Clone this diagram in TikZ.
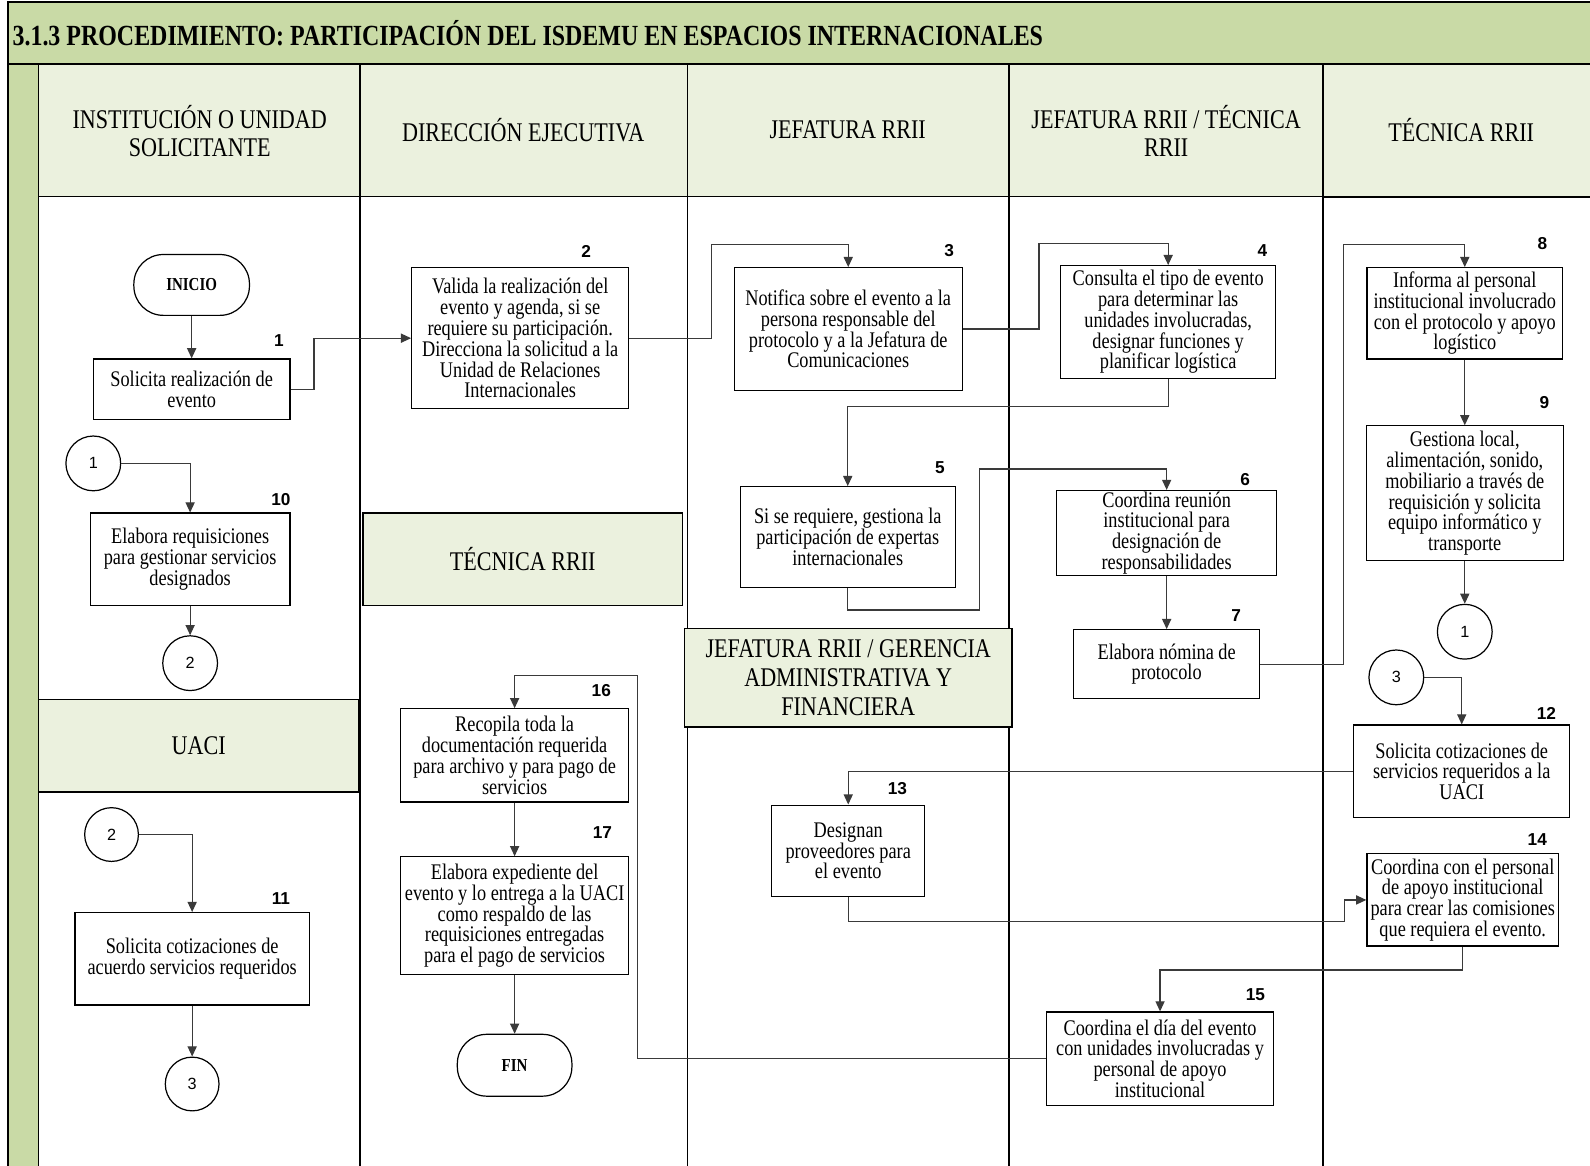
\documentclass[tikz,border=0pt]{standalone}
\usepackage{fontspec}
\setmainfont{Liberation Serif}[FakeStretch=0.82]
\newfontfamily\numfont{Liberation Sans}
\usetikzlibrary{arrows.meta}

\definecolor{band}{HTML}{C9DAA6}
\definecolor{lanehead}{HTML}{EBF1DE}
\definecolor{wire}{HTML}{3A3A3A}

\begin{document}
\begin{tikzpicture}[x=0.5pt,y=-0.5pt,
  pbox/.style={draw=black,line width=0.6pt,fill=white,align=center,inner sep=1pt,
    font=\fontsize{11}{10.25}\selectfont},
  term/.style={draw=black,line width=0.6pt,fill=white,rounded corners=14.5pt,inner sep=1pt,
    font=\fontsize{9}{10}\selectfont\bfseries},
  conn/.style={draw=wire,line width=0.6pt,-{Triangle[length=5pt,width=4.5pt]}},
  num/.style={inner sep=0pt,font=\numfont\bfseries\fontsize{8.5}{10}\selectfont},
  conref/.style={circle,draw=black,line width=0.6pt,fill=white,minimum size=26.5pt,inner sep=0pt,
    font=\numfont\fontsize{8}{10}\selectfont},
  lanetitle/.style={align=center,inner sep=0pt,font=\fontsize{13.3}{14}\selectfont},
  subhead/.style={draw=black,line width=0.6pt,fill=lanehead,align=center,inner sep=1pt,
    font=\fontsize{13.3}{14.25}\selectfont},
  lane/.style={draw=black,line width=0.6pt},
]
\useasboundingbox (0,0) rectangle (1568,1149);

% title band, left strip and lane header row
\fill[band] (8,2) rectangle (1600,63);
\fill[band] (8,63) rectangle (38,1200);
\fill[lanehead] (38,63) rectangle (1600,194);
\draw[line width=0.9pt] (8,1200) -- (8,2) -- (1600,2);
\draw[line width=0.9pt] (8,63) -- (1600,63);
\draw[lane] (38,194) -- (1600,194);
\foreach \lx in {38,355,678,995} \draw[lane] (\lx,63) -- (\lx,1200);
\draw[line width=0.9pt] (1305,63) -- (1305,1200);
\draw[line width=0.9pt] (1305,194) -- (1600,194);

\node[anchor=west,inner sep=0pt,font=\fontsize{14.4}{16}\selectfont\bfseries] (title) at (12,33)
  {3.1.3 PROCEDIMIENTO: PARTICIPACIÓN DEL ISDEMU EN ESPACIOS INTERNACIONALES};

% lane titles
\node[lanetitle] (l1) at (197,129) {INSTITUCIÓN O UNIDAD\\SOLICITANTE};
\node[lanetitle] (l2) at (516,128) {DIRECCIÓN EJECUTIVA};
\node[lanetitle] (l3) at (836,128) {JEFATURA RRII};
\node[lanetitle] (l4) at (1150,129) {JEFATURA RRII / TÉCNICA\\RRII};
\node[lanetitle] (l5) at (1441,128) {TÉCNICA RRII};

% sub-lane headers
\node[subhead,minimum width=157.5pt,minimum height=45.5pt] (sh1) at (515.5,551.5) {TÉCNICA RRII};
\node[subhead,minimum width=158pt,minimum height=45.5pt] (sh2) at (196,735.5) {UACI};
\node[subhead,minimum width=161.5pt,minimum height=48.5pt] (sh3) at (836.5,668.5)
  {JEFATURA RRII / GERENCIA\\ADMINISTRATIVA Y\\FINANCIERA};

% terminals
\node[term,minimum width=57pt,minimum height=30pt] (inicio) at (189,281) {INICIO};
\node[term,minimum width=56.5pt,minimum height=30.5pt] (fin) at (507.5,1050.5) {FIN};

% process steps
\node[pbox,minimum width=97pt,minimum height=30pt] (b1) at (189,384) {Solicita realización de\\evento};
\node[pbox,minimum width=107pt,minimum height=69.5pt] (b2) at (513,333.5)
  {Valida la realización del\\evento y agenda, si se\\requiere su participación.\\Direcciona la solicitud a la\\Unidad de Relaciones\\Internacionales};
\node[pbox,minimum width=112.5pt,minimum height=60.5pt] (b3) at (836.5,324.5)
  {Notifica sobre el evento a la\\persona responsable del\\protocolo y a la Jefatura de\\Comunicaciones};
\node[pbox,minimum width=106pt,minimum height=55.5pt] (b4) at (1152,317.5)
  {Consulta el tipo de evento\\para determinar las\\unidades involucradas,\\designar funciones y\\planificar logística};
\node[pbox,minimum width=106pt,minimum height=49.5pt] (b5) at (836,529.5)
  {Si se requiere, gestiona la\\participación de expertas\\internacionales};
\node[pbox,minimum width=108.5pt,minimum height=41.5pt,inner sep=0.5pt] (b6) at (1150.5,525.5)
  {Coordina reunión\\institucional para\\designación de\\responsabilidades};
\node[pbox,minimum width=91.5pt,minimum height=34pt] (b7) at (1150.5,655) {Elabora nómina de\\protocolo};
\node[pbox,minimum width=96.5pt,minimum height=45pt] (b8) at (1444.5,309)
  {Informa al personal\\institucional involucrado\\con el protocolo y apoyo\\logístico};
\node[pbox,minimum width=97pt,minimum height=66.5pt] (b9) at (1444.5,486.5)
  {Gestiona local,\\alimentación, sonido,\\mobiliario a través de\\requisición y solicita\\equipo informático y\\transporte};
\node[pbox,minimum width=98.5pt,minimum height=45.5pt] (b10) at (187.5,551.5)
  {Elabora requisiciones\\para gestionar servicios\\designados};
\node[pbox,minimum width=115.5pt,minimum height=45.5pt] (b11) at (189.5,945.5)
  {Solicita cotizaciones de\\acuerdo servicios requeridos};
\node[pbox,minimum width=106.5pt,minimum height=45.5pt] (b12) at (1441.5,760.5)
  {Solicita cotizaciones de\\servicios requeridos a la\\UACI};
\node[pbox,minimum width=75.5pt,minimum height=45pt] (b13) at (836.5,839)
  {Designan\\proveedores para\\el evento};
\node[pbox,minimum width=94.5pt,minimum height=45.5pt] (b14) at (1442.5,887.5)
  {Coordina con el personal\\de apoyo institucional\\para crear las comisiones\\que requiera el evento.};
\node[pbox,minimum width=112pt,minimum height=46pt] (b15) at (1144,1044)
  {Coordina el día del evento\\con unidades involucradas y\\personal de apoyo\\institucional};
\node[pbox,minimum width=112.5pt,minimum height=46pt] (b16) at (507.5,745)
  {Recopila toda la\\documentación requerida\\para archivo y para pago de\\servicios};
\node[pbox,minimum width=112.5pt,minimum height=58pt] (b17) at (507.5,903)
  {Elabora expediente del\\evento y lo entrega a la UACI\\como respaldo de las\\requisiciones entregadas\\para el pago de servicios};

% step numbers
\node[num] (n1) at (275,336) {1};
\node[num] (n2) at (578,248) {2};
\node[num] (n3) at (936,247) {3};
\node[num] (n4) at (1245,247) {4};
\node[num] (n5) at (927,461) {5};
\node[num] (n6) at (1228,473) {6};
\node[num] (n7) at (1219,607) {7};
\node[num] (n8) at (1521,240) {8};
\node[num] (n9) at (1523,397) {9};
\node[num] (n10) at (277,493) {10};
\node[num] (n11) at (277,886) {11};
\node[num] (n12) at (1525,704) {12};
\node[num] (n13) at (885,778) {13};
\node[num] (n14) at (1516,828) {14};
\node[num] (n15) at (1238,981) {15};
\node[num] (n16) at (593,681) {16};
\node[num] (n17) at (594,821) {17};

% off-page connectors
\node[conref,minimum size=27pt] (cl1) at (92,457) {1};
\node[conref,minimum size=27pt] (cl2) at (187.5,654) {2};
\node[conref] (cu2) at (110,823) {2};
\node[conref] (cu3) at (189.5,1069) {3};
\node[conref,minimum size=27pt] (cr1) at (1444.5,623) {1};
\node[conref,minimum size=27pt] (cr3) at (1377,668) {3};

% flow
\draw[conn] (inicio.south) -- (b1.north);
\draw[conn] (b1.east) -- ++(23,0) |- (b2.west);
\draw[conn] (b2.east) -- ++(81,0) -- ++(0,-92.5) -| (b3.north);
\draw[conn] (b3.east) -- ++(75,0) -- ++(0,-84.5) -| (b4.north);
\draw[conn] (b4.south) -- ++(0,27) -| (b5.north);
\draw[conn] (b5.south) -- ++(0,22) -- ++(130,0) -- ++(0,-139) -| (b6.north);
\draw[conn] (b6.south) -- (b7.north);
\draw[conn] (b7.east) -- ++(82,0) -- ++(0,-414) -| (b8.north);
\draw[conn] (b8.south) -- (b9.north);
\draw[conn] (b9.south) -- (cr1.north);
\draw[conn] (cl1.east) -| (b10.north);
\draw[conn] (b10.south) -- (cl2.north);
\draw[conn] (cu2.east) -| (b11.north);
\draw[conn] (b11.south) -- (cu3.north);
\draw[conn] (cr3.east) -| (b12.north);
\draw[conn] (b12.west) -| (b13.north);
\draw[conn] (b13.south) -- ++(0,24) -- ++(489,0) |- (b14.west);
\draw[conn] (b14.south) -- ++(0,23) -| (b15.north);
\draw[conn] (b15.west) -- ++(-403,0) -- ++(0,-378) -| (b16.north);
\draw[conn] (b16.south) -- (b17.north);
\draw[conn] (b17.south) -- (fin.north);
\end{tikzpicture}
\end{document}
